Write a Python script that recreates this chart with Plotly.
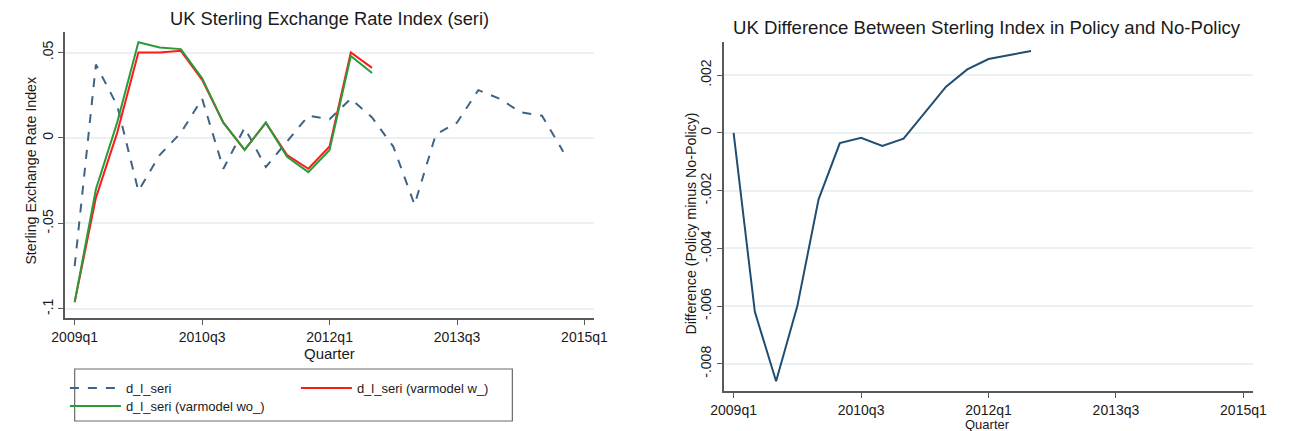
import plotly.graph_objects as go

# Quarter labels 2009q1 .. 2015q1
quarters = [f"{y}q{q}" for y in range(2009, 2016) for q in range(1, 5)][:25]
tick_quarters = ["2009q1", "2010q3", "2012q1", "2013q3", "2015q1"]

# Left panel: sterling exchange rate index (log differences)
d_l_seri = [-0.075, 0.043, 0.019, -0.031, -0.010, 0.003, 0.023, -0.018, 0.006,
            -0.017, -0.002, 0.013, 0.011, 0.023, 0.012, -0.005, -0.039, 0.002,
            0.009, 0.028, 0.023, 0.015, 0.013, -0.008]
varmodel_w = [-0.096, -0.035, 0.003, 0.050, 0.050, 0.051, 0.034, 0.009, -0.007,
              0.009, -0.010, -0.018, -0.005, 0.050, 0.041]
varmodel_wo = [-0.096, -0.030, 0.009, 0.056, 0.053, 0.052, 0.035, 0.009, -0.007,
               0.009, -0.011, -0.020, -0.007, 0.048, 0.038]
left_yticks = [-0.1, -0.05, 0.0, 0.05]
left_yticktext = ["-.1", "-.05", "0", ".05"]

# Right panel: policy minus no-policy difference
policy_diff = [0.0, -0.0062, -0.0086, -0.0060, -0.0023, -0.00035, -0.00017,
               -0.00045, -0.0002, 0.0007, 0.0016, 0.0022, 0.00256, 0.0027, 0.00284]
right_yticks = [-0.008, -0.006, -0.004, -0.002, 0.0, 0.002]
right_yticktext = ["-.008", "-.006", "-.004", "-.002", "0", ".002"]

W, H = 1293, 431
FONT = "Liberation Sans, Arial, Helvetica, sans-serif"
TXT = "#1a1a1a"
AX = "#5a5a5a"
GRID = "#e9f1f3"

fig = go.Figure()

fig.add_trace(go.Scatter(x=quarters[:len(d_l_seri)], y=d_l_seri, mode="lines",
                         name="d_l_seri", line=dict(color="#3f6384", width=2, dash="dash"),
                         xaxis="x", yaxis="y", legend="legend"))
fig.add_trace(go.Scatter(x=quarters[:len(varmodel_w)], y=varmodel_w, mode="lines",
                         name="d_l_seri (varmodel w_)", line=dict(color="#ff1a1a", width=2),
                         xaxis="x", yaxis="y", legend="legend"))
fig.add_trace(go.Scatter(x=quarters[:len(varmodel_wo)], y=varmodel_wo, mode="lines",
                         name="d_l_seri (varmodel wo_)", line=dict(color="#2a9a3a", width=2),
                         xaxis="x", yaxis="y", legend="legend2"))
fig.add_trace(go.Scatter(x=quarters[:len(policy_diff)], y=policy_diff, mode="lines",
                         name="difference", line=dict(color="#1f4e72", width=2),
                         xaxis="x2", yaxis="y2", showlegend=False))


def px_x(p):
    return p / W


def px_y(p):
    return 1 - p / H


xcommon = dict(type="category", categoryorder="array", categoryarray=quarters,
               tickmode="array", tickvals=tick_quarters, ticktext=tick_quarters,
               showline=True, linecolor=AX, linewidth=1.5, ticks="outside",
               ticklen=5, tickcolor=AX, tickwidth=1.2, showgrid=False, zeroline=False,
               tickfont=dict(size=14, color=TXT, family=FONT), range=[-0.46, 24.43])
ycommon = dict(showline=True, linecolor=AX, linewidth=1.5, ticks="outside",
               ticklen=5, tickcolor=AX, tickwidth=1.2, showgrid=True, gridcolor=GRID,
               gridwidth=1.5, zeroline=False, tickangle=-90,
               tickfont=dict(size=14, color=TXT, family=FONT))

fig.update_layout(
    width=W, height=H,
    margin=dict(l=0, r=0, t=0, b=0),
    paper_bgcolor="white", plot_bgcolor="white",
    font=dict(family=FONT, color=TXT),
    xaxis=dict(**xcommon, domain=[px_x(53), px_x(593)], anchor="y"),
    yaxis=dict(**ycommon, domain=[px_y(318), px_y(32)], anchor="x",
               range=[-0.1053, 0.062], tickvals=left_yticks, ticktext=left_yticktext),
    xaxis2=dict(**xcommon, domain=[px_x(726), px_x(1266)], anchor="y2"),
    yaxis2=dict(**ycommon, domain=[px_y(391), px_y(42)], anchor="x2",
                range=[-0.00894, 0.00315], tickvals=right_yticks, ticktext=right_yticktext),
    legend=dict(orientation="h", x=px_x(53), y=px_y(373), xanchor="left", yanchor="top",
                entrywidth=165, entrywidthmode="pixels", itemwidth=51,
                font=dict(size=13, color=TXT, family=FONT), bgcolor="rgba(0,0,0,0)",
                tracegroupgap=0),
    legend2=dict(orientation="h", x=px_x(53), y=px_y(391), xanchor="left", yanchor="top",
                 itemwidth=51, font=dict(size=13, color=TXT, family=FONT),
                 bgcolor="rgba(0,0,0,0)"),
    showlegend=True,
)

# Legend frame
fig.add_shape(type="rect", xref="paper", yref="paper",
              x0=px_x(63), x1=px_x(510), y0=px_y(421), y1=px_y(369),
              line=dict(color="#6a6a6a", width=1.2), fillcolor="rgba(0,0,0,0)")

annots = [
    dict(text="UK Sterling Exchange Rate Index (seri)", x=px_x(323), y=px_y(18), size=18.3),
    dict(text="UK Difference Between Sterling Index in Policy and No-Policy",
         x=px_x(995), y=px_y(28), size=18.6),
    dict(text="Quarter", x=px_x(323), y=px_y(353), size=15),
    dict(text="Quarter", x=px_x(995), y=px_y(424), size=13),
    dict(text="Sterling Exchange Rate Index", x=px_x(18), y=px_y(171), size=14.2, angle=-90),
    dict(text="Difference (Policy minus No-Policy)", x=px_x(692), y=px_y(224), size=14.2,
         angle=-90),
]
for a in annots:
    fig.add_annotation(text=a["text"], x=a["x"], y=a["y"], xref="paper", yref="paper",
                       xanchor="center", yanchor="middle", showarrow=False,
                       textangle=a.get("angle", 0),
                       font=dict(size=a["size"], color=TXT, family=FONT))

fig.write_html("out.html")
